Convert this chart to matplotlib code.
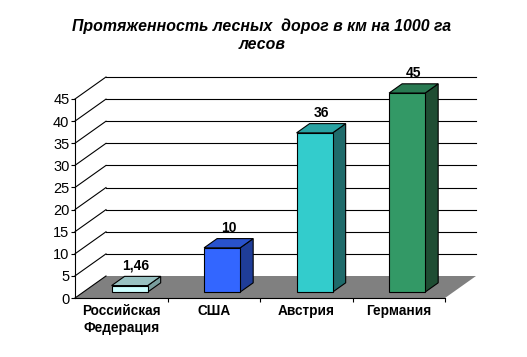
import matplotlib.pyplot as plt
from matplotlib.patches import Polygon
import numpy as np

plt.rcParams['font.family'] = ['Liberation Sans', 'DejaVu Sans']

# data
categories = ["Российская\nФедерация", "США", "Австрия", "Германия"]
values = [1.46, 10, 36, 45]
value_labels = ["1,46", "10", "36", "45"]
front_colors = ["#CCFFFF", "#3366FF", "#33CCCC", "#339966"]
top_colors = ["#99C2C2", "#2952CC", "#29A3A3", "#297A52"]
side_colors = ["#7A9E9E", "#1F3D99", "#1F6B6B", "#1F4D33"]

# fake 3d depth (in data units)
DX = 0.335
DY = 4.975
F0 = 0.27     # where the bar front sits in depth
FD = 0.42     # bar depth
BW = 0.39     # bar width

W, H = 527, 357
fig = plt.figure(figsize=(W / 100, H / 100), dpi=100)
ax = fig.add_axes([75 / W, (H - 298) / H, 370 / W, 199 / H])
ax.set_xlim(0, 4)
ax.set_ylim(0, 45)

# floor
floor = Polygon([(0, 0), (4, 0), (4 + DX, DY), (DX, DY)], closed=True,
                facecolor="#808080", edgecolor="none", zorder=1, clip_on=False)
ax.add_patch(floor)

# gridlines on back wall and left wall
for g in range(0, 50, 5):
    if g > 0:
        ax.plot([DX, 4 + DX], [g + DY, g + DY], color="black", lw=0.8,
                zorder=0.5, clip_on=False)
    ax.plot([0, DX], [g, g + DY], color="black", lw=0.8, zorder=2, clip_on=False)

# bars
for i, v in enumerate(values):
    xl = i + 0.5 - BW / 2 + DX * F0
    xr = xl + BW
    yb = DY * F0
    yt = v + yb
    ddx, ddy = DX * FD, DY * FD
    side = Polygon([(xr, yb), (xr + ddx, yb + ddy), (xr + ddx, yt + ddy), (xr, yt)],
                   closed=True, facecolor=side_colors[i], edgecolor="black",
                   lw=0.8, zorder=3, clip_on=False)
    top = Polygon([(xl, yt), (xr, yt), (xr + ddx, yt + ddy), (xl + ddx, yt + ddy)],
                  closed=True, facecolor=top_colors[i], edgecolor="black",
                  lw=0.8, zorder=3, clip_on=False)
    front = Polygon([(xl, yb), (xr, yb), (xr, yt), (xl, yt)], closed=True,
                    facecolor=front_colors[i], edgecolor="black", lw=0.8,
                    zorder=4, clip_on=False)
    ax.add_patch(side)
    ax.add_patch(top)
    ax.add_patch(front)
    ax.annotate(value_labels[i], (xl + BW / 2 + ddx / 2, yt + ddy),
                xytext=(0, 2.5), textcoords="offset points", ha="center",
                va="bottom", fontsize=10, fontweight="bold", zorder=5,
                annotation_clip=False)

# axes styling
for s in ["top", "right"]:
    ax.spines[s].set_visible(False)
ax.spines["left"].set_linewidth(0.8)
ax.spines["bottom"].set_linewidth(0.8)
ax.spines["left"].set_zorder(2)
ax.spines["bottom"].set_zorder(2)
ax.patch.set_visible(False)

ax.set_yticks(range(0, 50, 5))
ax.tick_params(axis="y", direction="out", length=3, width=0.8, pad=1, labelsize=10.5)
ax.set_xticks([1, 2, 3, 4])
ax.set_xticklabels([])
ax.set_xticks(np.arange(4) + 0.5, minor=True)
ax.set_xticklabels(categories, minor=True, fontsize=9.8, fontweight="bold",
                   linespacing=1.25)
ax.tick_params(axis="x", which="major", direction="out", length=3, width=0.8)
ax.tick_params(axis="x", which="minor", length=0, pad=4.5)

fig.text(262 / W, 1 - 35 / H, "Протяженность лесных  дорог в км на 1000 га\nлесов",
         ha="center", va="center", fontsize=11.4, fontweight="bold",
         fontstyle="italic", linespacing=1.25)

fig.savefig("out.png", dpi=100)
